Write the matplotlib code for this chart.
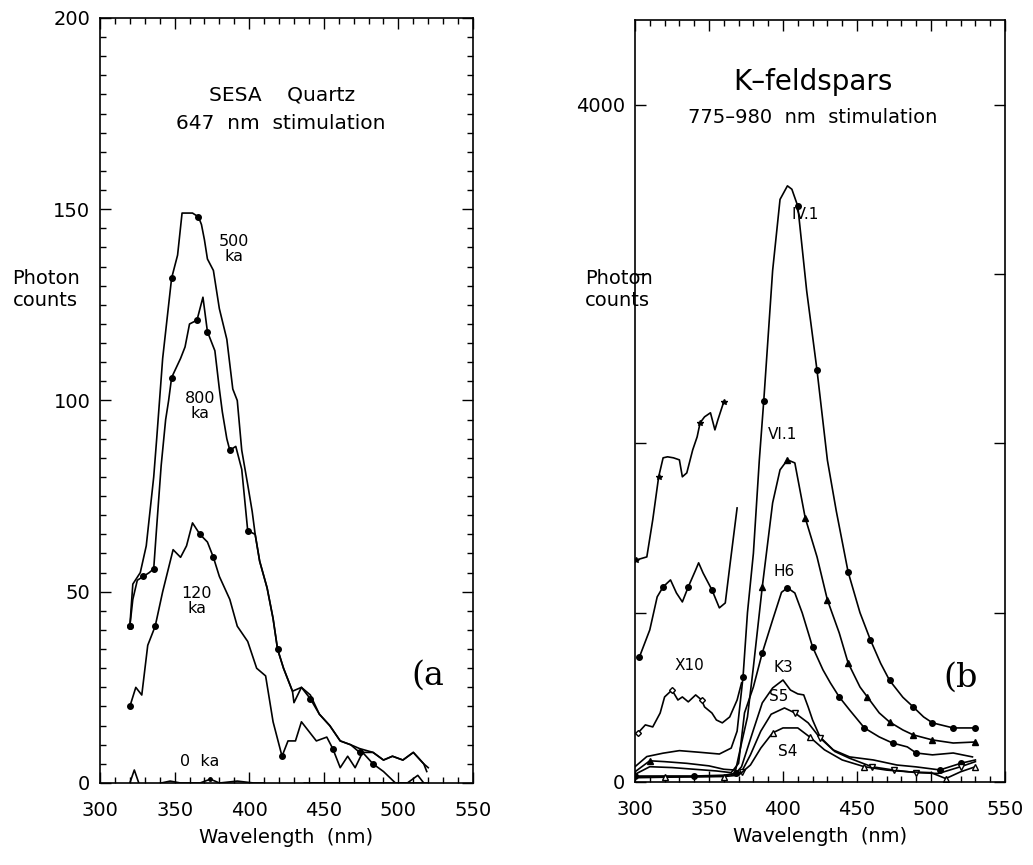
import numpy as np
import matplotlib.pyplot as plt
from matplotlib.ticker import MultipleLocator, FixedLocator

plt.rcParams['font.family'] = ['DejaVu Sans']

# ---- (a) SESA quartz, 647 nm stimulation ----
wl_500 = [320, 322, 327, 331, 336, 338, 342, 348, 352, 355, 362, 366, 368, 370, 372,
          376, 380, 385, 389, 392, 395, 399, 402, 404, 407, 412, 416, 419, 423, 429,
          430, 435, 441, 447, 454, 461, 468, 474, 483, 490, 496, 503, 510, 517, 519]
ct_500 = [41, 52, 55, 62, 80, 90, 111, 132, 138, 149, 149, 148, 146, 142, 137,
          134, 124, 116, 103, 100, 87, 78, 71, 65, 58, 51, 43, 35, 30, 24,
          21, 25, 23, 18, 15, 11, 10, 9, 8, 6, 7, 6, 8, 5, 3]

wl_800 = [320, 322, 325, 329, 333, 336, 338, 341, 344, 346, 348, 354, 357, 360, 365,
          367, 369, 370, 372, 377, 380, 382, 385, 387, 391, 395, 399, 404, 407, 412,
          416, 419, 423, 429, 435, 441, 447, 454, 461, 468, 474, 483, 490, 496, 503,
          510, 517, 520]
ct_800 = [41, 48, 53, 54, 55, 56, 67, 83, 95, 100, 106, 111, 114, 120, 121,
          124, 127, 124, 118, 113, 103, 97, 90, 87, 88, 82, 66, 65, 58, 51,
          43, 35, 30, 24, 25, 22, 18, 15, 11, 10, 8, 8, 6, 7, 6,
          8, 5, 4]

wl_120 = [320, 324, 328, 332, 337, 342, 349, 354, 358, 362, 367, 372, 376, 380, 387,
          392, 399, 405, 411, 416, 422, 426, 431, 435, 441, 445, 452, 456, 461, 466,
          471, 476, 483, 490, 498, 506, 513, 517]
ct_120 = [20, 25, 23, 36, 41, 50, 61, 59, 62, 68, 65, 63, 59, 54, 48,
          41, 37, 30, 28, 16, 7, 11, 11, 16, 13, 11, 12, 9, 4, 7,
          4, 8, 5, 3, 0, 0, 2, 0]

wl_0 = [320, 323, 326, 330, 335, 341, 347, 354, 367, 374, 380, 392, 403, 410, 415,
        419, 423, 429, 437, 444, 460, 480, 500, 520]
ct_0 = [0, 3.4, 0, -3.7, -1, 0, 0.5, 0, 0, 1, 0, 0.5, 0, 0, -1,
        -1.8, -4, -1.8, 0, 0, 0, 0, 0, 0]

# ---- (b) K-feldspars, 775-980 nm stimulation ----
wl_iv1 = [300, 308, 319, 330, 344, 357, 365, 369, 373, 376, 380, 384, 387, 393, 398,
          403, 406, 410, 416, 423, 430, 436, 444, 452, 459, 466, 472, 481, 488, 495,
          501, 515, 530]
ct_iv1 = [90, 150, 170, 185, 175, 165, 200, 300, 620, 1000, 1350, 1900, 2250, 3020, 3440,
          3520, 3500, 3400, 2900, 2430, 1900, 1600, 1240, 1000, 840, 700, 600, 500, 443, 384,
          349, 319, 319]

wl_vi1 = [300, 310, 320, 335, 350, 360, 368, 372, 376, 380, 386, 393, 398, 403, 408,
          415, 423, 430, 438, 444, 452, 457, 465, 472, 481, 488, 501, 515, 530]
ct_vi1 = [60, 125, 120, 110, 95, 75, 70, 230, 384, 679, 1152, 1648, 1843, 1902, 1884,
          1560, 1329, 1075, 880, 703, 561, 502, 408, 354, 307, 278, 248, 230, 236]

wl_h6 = [300, 310, 325, 340, 355, 365, 370, 374, 380, 386, 393, 399, 403, 408, 413,
         420, 427, 432, 438, 445, 455, 465, 474, 484, 490, 501, 515, 528]
ct_h6 = [45, 90, 85, 75, 65, 55, 110, 408, 561, 762, 957, 1120, 1146, 1116, 998,
         797, 662, 585, 502, 425, 319, 266, 230, 207, 171, 160, 171, 148]

wl_k3 = [300, 320, 340, 360, 368, 372, 380, 386, 393, 400, 405, 410, 414, 417, 420,
         425, 434, 445, 461, 477, 490, 506, 520, 530]
ct_k3 = [35, 35, 35, 40, 50, 90, 307, 467, 555, 602, 543, 520, 514, 443, 366,
         266, 189, 148, 130, 100, 89, 71, 110, 130]

wl_s5 = [300, 320, 340, 360, 372, 378, 385, 392, 401, 408, 417, 425, 435, 445, 460,
         475, 490, 505, 520, 530]
ct_s5 = [30, 32, 32, 35, 60, 160, 300, 400, 437, 408, 349, 260, 180, 140, 90,
         70, 55, 50, 90, 120]

wl_s4 = [300, 320, 340, 360, 370, 378, 385, 393, 400, 410, 418, 428, 440, 455, 470,
         485, 500, 510, 520, 530]
ct_s4 = [25, 28, 30, 32, 40, 100, 200, 290, 319, 319, 266, 190, 130, 90, 70,
         60, 55, 20, 60, 90]

# x10 magnified UV parts
wl_x10a = [301, 308, 312, 316, 319, 322, 326, 330, 332, 335, 339, 342, 344, 347, 351,
           354, 356, 360]
ct_x10a = [1311, 1329, 1548, 1802, 1914, 1920, 1914, 1902, 1802, 1825, 1961, 2038, 2121, 2156, 2180,
           2079, 2138, 2245]

wl_x10b = [303, 310, 315, 319, 324, 328, 332, 336, 341, 343, 346, 352, 357, 361, 364, 369]
ct_x10b = [738, 898, 1093, 1152, 1193, 1116, 1063, 1152, 1252, 1294, 1234, 1134, 1028, 1057, 1270, 1618]

wl_x10c = [302, 307, 312, 317, 320, 325, 329, 332, 336, 341, 345, 347, 352, 355, 359,
           364, 369, 372]
ct_x10c = [289, 337, 325, 407, 502, 543, 484, 502, 473, 514, 484, 443, 407, 366, 349,
           384, 484, 585]

fig = plt.figure(figsize=(10.33, 8.65), dpi=100)
ax1 = fig.add_axes([0.0968, 0.0948, 0.3611, 0.8844])
ax2 = fig.add_axes([0.6147, 0.0960, 0.3582, 0.8810])

lw = 1.2
kw = dict(color='black', lw=lw, ms=4)

ax1.plot(wl_500, ct_500, marker='o', markevery=[0, 7, 11], **kw)
ax1.plot(wl_800, ct_800, marker='o', markevery=[0, 3, 5, 10, 14, 18, 23, 26, 31, 35, 40], **kw)
ax1.plot(wl_120, ct_120, marker='o', markevery=[0, 4, 10, 12, 20, 27, 32], **kw)
ax1.plot(wl_0, ct_0, marker='o', markevery=[3, 9, 16], color='black', lw=lw, ms=2.5)

ax2.plot(wl_iv1, ct_iv1, marker='o', markevery=[8, 12, 17, 19, 22, 24, 26, 28, 30, 31, 32], **kw)
ax2.plot(wl_vi1, ct_vi1, marker='^', markevery=[1, 10, 13, 15, 17, 19, 21, 23, 25, 26, 28], **kw)
ax2.plot(wl_h6, ct_h6, marker='o', markevery=[9, 12, 15, 18, 20, 22, 24], **kw)
ax2.plot(wl_k3, ct_k3, marker='o', markevery=[0, 2, 4, 21, 22], mfc='black', **kw)
ax2.plot(wl_s5, ct_s5, marker='v', markevery=[4, 9, 11, 14, 15, 16, 18], mfc='white', **kw)
ax2.plot(wl_s4, ct_s4, marker='^', markevery=[1, 3, 7, 10, 13, 17, 19], mfc='white', **kw)
ax2.plot(wl_x10a, ct_x10a, marker='*', markevery=[0, 3, 12, 17], **kw)
ax2.plot(wl_x10b, ct_x10b, marker='o', markevery=[0, 3, 7, 11], **kw)
ax2.plot(wl_x10c, ct_x10c, marker='D', markevery=[0, 5, 10], mfc='white', color='black', lw=lw, ms=3)

fs = 14
for ax in (ax1, ax2):
    ax.set_xlim(300, 550)
    ax.xaxis.set_major_locator(MultipleLocator(50))
    ax.xaxis.set_minor_locator(MultipleLocator(10))
    ax.tick_params(which='both', direction='in', top=True, right=True, labelsize=fs, width=1)
    ax.tick_params(which='major', length=8)
    ax.tick_params(which='minor', length=4)
    ax.tick_params(axis='x', pad=13)
    ax.tick_params(axis='y', pad=7)
    ax.set_xlabel('Wavelength  (nm)', fontsize=fs, labelpad=6)
    for s in ax.spines.values():
        s.set_linewidth(1.2)

ax1.set_ylim(0, 200)
ax1.yaxis.set_major_locator(MultipleLocator(50))
ax1.yaxis.set_minor_locator(MultipleLocator(5))

ax2.set_ylim(0, 4500)
ax2.yaxis.set_major_locator(FixedLocator([0, 1000, 2000, 3000, 4000]))
ax2.set_yticklabels(['0', '', '', '', '4000'])

fig.text(0.012, 0.665, 'Photon\ncounts', fontsize=fs, ha='left', va='center', linespacing=1.2)
fig.text(0.566, 0.665, 'Photon\ncounts', fontsize=fs, ha='left', va='center', linespacing=1.2)

ax1.text(422, 179.9, 'SESA    Quartz', fontsize=14.5, ha='center', va='center')
ax1.text(421, 172.4, '647  nm  stimulation', fontsize=14.5, ha='center', va='center')
ax1.text(390, 139.5, '500\nka', fontsize=11.5, ha='center', va='center', linespacing=1.0)
ax1.text(367, 98.5, '800\nka', fontsize=11.5, ha='center', va='center', linespacing=1.0)
ax1.text(365, 47.5, '120\nka', fontsize=11.5, ha='center', va='center', linespacing=1.0)
ax1.text(367, 5.5, '0  ka', fontsize=11.5, ha='center', va='center')
ax1.text(520, 28, '(a', fontsize=24, family='DejaVu Serif', ha='center', va='center')

ax2.text(420, 4135, 'K\u2013feldspars', fontsize=20, ha='center', va='center')
ax2.text(420, 3922, '775\u2013980  nm  stimulation', fontsize=14, ha='center', va='center')
ax2.text(415, 3349, 'IV.1', fontsize=11, ha='center', va='center')
ax2.text(400, 2050, 'VI.1', fontsize=11, ha='center', va='center')
ax2.text(401, 1240, 'H6', fontsize=11, ha='center', va='center')
ax2.text(400, 675, 'K3', fontsize=11, ha='center', va='center')
ax2.text(397, 505, 'S5', fontsize=11, ha='center', va='center')
ax2.text(403, 177, 'S4', fontsize=11, ha='center', va='center')
ax2.text(337, 690, 'X10', fontsize=11, ha='center', va='center')
ax2.text(520, 614, '(b', fontsize=24, family='DejaVu Serif', ha='center', va='center')

fig.savefig('out.png', dpi=100)
